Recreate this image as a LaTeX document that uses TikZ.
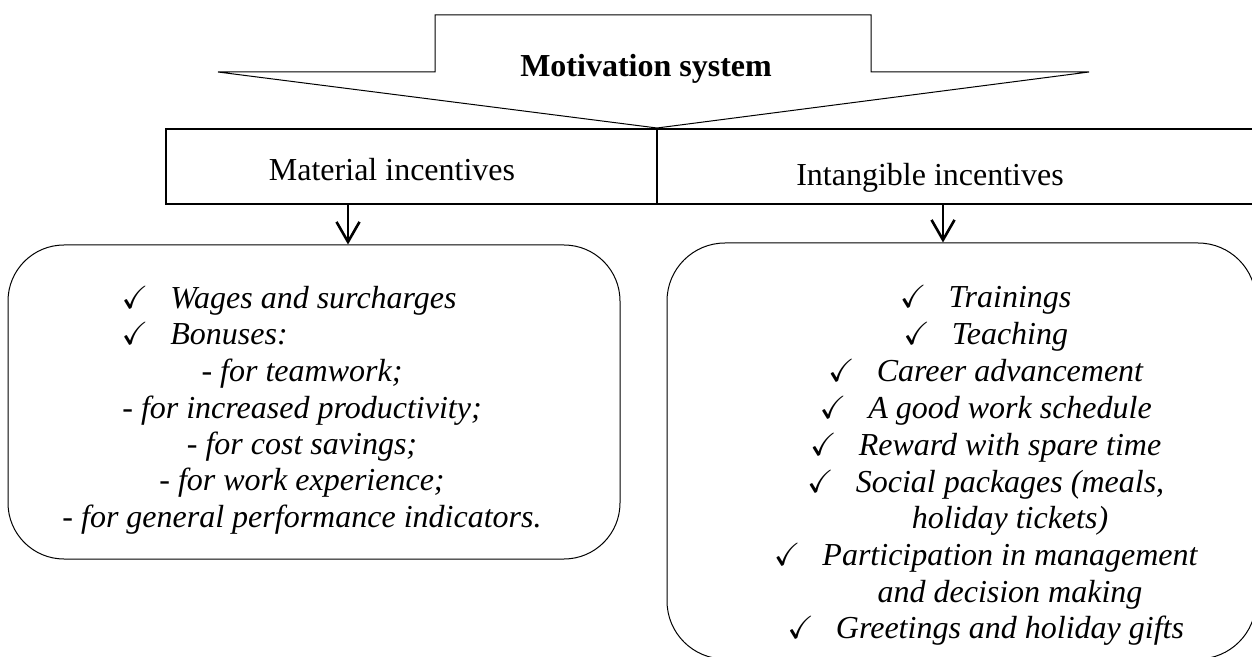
\documentclass[tikz,border=0pt]{standalone}
\usepackage{fontspec}
\setmainfont{Liberation Serif}
\usepackage{amssymb}
\usepackage{tikz}
\usetikzlibrary{arrows.meta}
\newcommand{\coche}{\llap{$\checkmark$\hspace{11pt}}}
\tikzstyle{bande}=[draw,rectangle,line width=0.8pt,minimum height=37.5pt,inner sep=0pt]
\tikzstyle{boite}=[draw,rectangle,rounded corners=28pt,line width=0.5pt,inner sep=0pt]
\tikzstyle{titre}=[font=\fontsize{16}{18}\selectfont\bfseries,anchor=base,inner sep=0pt]
\tikzstyle{rubrique}=[font=\fontsize{16}{18}\selectfont,anchor=base,inner sep=0pt]
\tikzstyle{ligne}=[font=\fontsize{16}{18}\selectfont\itshape,anchor=base,inner sep=0pt]
\tikzstyle{puce}=[ligne,anchor=base west]
\tikzstyle{fleche}=[-{Straight Barb[length=10pt,width=11.5pt]},line width=1.3pt]
\begin{document}
\begin{tikzpicture}[x=0.5pt,y=-0.5pt]
\useasboundingbox (0,0) rectangle (1252,657);
\clip (0,0) rectangle (1252,657);
%fleche du haut
\draw[line width=0.5pt] (435,15) -- (871,15) -- (871,72) -- (1089,72) -- (657,128) -- (218,72) -- (435,72) -- cycle;
\node[titre] (titre) at (646,77) {Motivation system};
%bandes
\node[bande,minimum width=245.5pt] (mat) at (411.5,166.5) {};
\node[bande,minimum width=302.5pt] (intan) at (959.5,166.5) {};
\node[rubrique] (lmat) at (392,181) {Material incentives};
\node[rubrique] (lintan) at (930,186) {Intangible incentives};
%cadres
\node[boite,minimum width=306pt,minimum height=157pt] (bmat) at (314,402) {};
\node[boite,minimum width=294.5pt,minimum height=208pt,rounded corners=29pt] (bintan) at (961.5,451) {};
\node[puce] (m1) at (170,309) {\coche Wages and surcharges};
\node[puce] (m2) at (170,345) {\coche Bonuses:};
\node[ligne] (m3) at (302,382) {- for teamwork;};
\node[ligne] (m4) at (302,418) {- for increased productivity;};
\node[ligne] (m5) at (302,454) {- for cost savings;};
\node[ligne] (m6) at (302,490) {- for work experience;};
\node[ligne] (m7) at (302,527) {- for general performance indicators.};
\node[ligne] (i1) at (1010,308) {\coche Trainings};
\node[ligne] (i2) at (1010,345) {\coche Teaching};
\node[ligne] (i3) at (1010,382) {\coche Career advancement};
\node[ligne] (i4) at (1010,418) {\coche A good work schedule};
\node[ligne] (i5) at (1010,455) {\coche Reward with spare time};
\node[ligne] (i6) at (1010,492) {\coche Social packages (meals,};
\node[ligne] (i7) at (1010,528) {holiday tickets)};
\node[ligne] (i8) at (1010,565) {\coche Participation in management};
\node[ligne] (i9) at (1010,602) {and decision making};
\node[ligne] (i10) at (1010,638) {\coche Greetings and holiday gifts};
%fleches
\coordinate (c1) at (348,0);
\coordinate (c2) at (943,0);
\draw[fleche] (c1 |- mat.south) -- (c1 |- bmat.north);
\draw[fleche] (c2 |- intan.south) -- (c2 |- bintan.north);
\end{tikzpicture}
\end{document}
